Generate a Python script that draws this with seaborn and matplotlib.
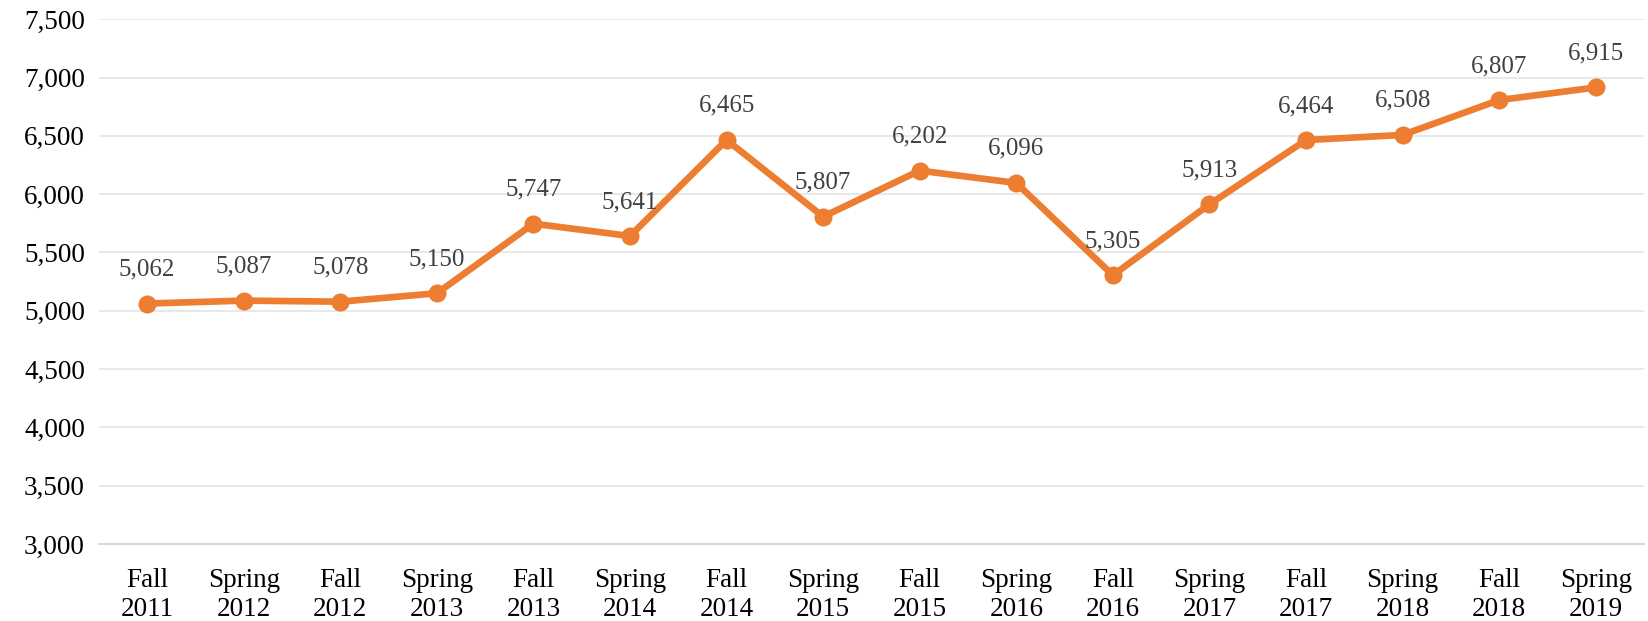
import matplotlib
matplotlib.use("Agg")
import matplotlib.pyplot as plt
import seaborn as sns
import pandas as pd
from matplotlib.ticker import FuncFormatter, MultipleLocator

terms = ["Fall\n2011", "Spring\n2012", "Fall\n2012", "Spring\n2013", "Fall\n2013", "Spring\n2014",
         "Fall\n2014", "Spring\n2015", "Fall\n2015", "Spring\n2016", "Fall\n2016", "Spring\n2017",
         "Fall\n2017", "Spring\n2018", "Fall\n2018", "Spring\n2019"]
enrollment = [5062, 5087, 5078, 5150, 5747, 5641, 6465, 5807, 6202, 6096, 5305, 5913,
              6464, 6508, 6807, 6915]

df = pd.DataFrame({"pos": range(len(terms)), "value": enrollment})

sns.set_theme(style="white")
plt.rcParams['font.family'] = ['Liberation Serif', 'DejaVu Serif']

fig = plt.figure(figsize=(16.48, 6.21), dpi=100)
ax = fig.add_axes([0.060, 0.124, 0.9376, 0.845])

orange = "#ED7D31"
sns.lineplot(data=df, x="pos", y="value", ax=ax, color=orange, linewidth=4.8,
             marker="o", markersize=13, markeredgewidth=0, zorder=3)

for x, v in zip(df["pos"], df["value"]):
    ax.annotate(f"{v:,}", (x, v), xytext=(0, 24.5), textcoords="offset points",
                ha="center", va="center", fontsize=18, color="#404040")

ax.set_xlim(-0.5, len(terms) - 0.5)
ax.set_ylim(3000, 7500)
ax.yaxis.set_major_locator(MultipleLocator(500))
ax.yaxis.set_major_formatter(FuncFormatter(lambda v, p: f"{int(v):,}"))
ax.set_xticks(range(len(terms)))
ax.set_xticklabels(terms, linespacing=1.22)
ax.tick_params(axis="y", labelsize=19.5, colors="#000000", length=0, pad=10)
ax.tick_params(axis="x", labelsize=19.5, colors="#000000", length=0, pad=17)
ax.set_xlabel("")
ax.set_ylabel("")
ax.grid(axis="y", color="#E8E8E8", linewidth=1.4)
ax.set_axisbelow(True)
for s in ["top", "right", "left"]:
    ax.spines[s].set_visible(False)
ax.spines["bottom"].set_color("#D9D9D9")
ax.spines["bottom"].set_linewidth(1.5)

fig.savefig("out.png", dpi=100)
